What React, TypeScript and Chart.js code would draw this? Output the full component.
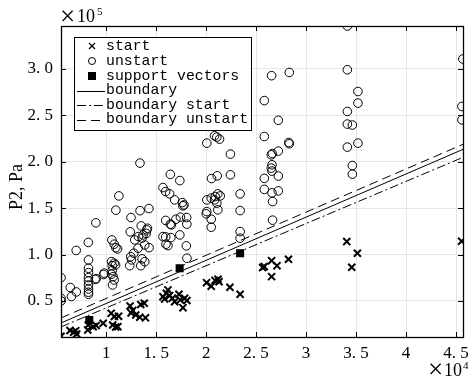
import React, { useEffect, useRef } from "react";
import { Chart, registerables } from "chart.js";
Chart.register(...registerables);

// ---- data (raw units: x, y in Pa) ----
const X_LIMITS = [5480, 45700];
const Y_LIMITS = [11200, 346000];
const X_TICKS = [10000, 15000, 20000, 25000, 30000, 35000, 40000, 45000];
const Y_TICKS = [50000, 100000, 150000, 200000, 250000, 300000];

const unstartPts: number[][] = [
  [5480, 75100], [5480, 52900], [5480, 50000], [6410, 64500], [7010, 59700], [6530, 54800], [7000, 104400], [8210, 113000], [8970, 134100],
  [8230, 94200], [8230, 85200], [8230, 80500], [8230, 75100], [8230, 71600], [8230, 67200], [8230, 62900], [8230, 59400], [8230, 57200],
  [9000, 74000], [8900, 73200], [9810, 80000], [9740, 78500],
  [10570, 115700], [10800, 111100], [10970, 107400], [11140, 106000], [10540, 92300], [10800, 90600], [10600, 88000], [10940, 88800],
  [10600, 82700], [10540, 78800], [10700, 76200], [10800, 72600], [10640, 67200], [10970, 147700], [11270, 163100],
  [13380, 198400], [13390, 147200], [14280, 149500], [12480, 139800], [13510, 130800], [12410, 124400], [14060, 126500], [14130, 128300],
  [14010, 122700], [12860, 115700], [13230, 119300], [13690, 121100], [13590, 117600], [13860, 110300], [14290, 107400], [13190, 106800],
  [12760, 101400], [12460, 97700], [12530, 94200], [12360, 88000], [13590, 95300], [13860, 92300], [13460, 88000],
  [15680, 172100], [15950, 167800], [16350, 165300], [16850, 158800], [16420, 186300], [17370, 179600], [17620, 155900], [17680, 152400],
  [17780, 153400], [15950, 136700], [16420, 132700], [16520, 131900], [16980, 138000], [17430, 140200], [18050, 139800], [18070, 132700],
  [17370, 121100], [15680, 119300], [15950, 118900], [16470, 118200], [15980, 111100], [16180, 109600], [18020, 109300], [18080, 96000],
  [20070, 219900], [20840, 227800], [21070, 226400], [21340, 224200], [22430, 208100], [20540, 181800], [21110, 184700], [22430, 185800],
  [20070, 158800], [20510, 160700], [20840, 158800], [20910, 162400], [21170, 165300], [21410, 163100], [21070, 155300], [21170, 148100],
  [20070, 146200], [20010, 143800], [20510, 138000], [20510, 129400], [23400, 165300], [23400, 147300], [23400, 124700], [23400, 117600],
  [26550, 292500], [28320, 296000], [25820, 265700], [27220, 244500], [25820, 227000], [28270, 220600], [28320, 219200], [27220, 211300],
  [26520, 207300], [26620, 208700], [26590, 196600], [26520, 193000], [26590, 189800], [27220, 184500], [25820, 182000], [25820, 170100],
  [26590, 166400], [27220, 168500], [26650, 157000], [26650, 137000],
  [34130, 346000], [34130, 298900], [35190, 275500], [35190, 263000], [34130, 254000], [34130, 240400], [34630, 239400], [34130, 215600],
  [35190, 219900], [34630, 195800], [34630, 186500],
  [45690, 310500], [45590, 259400], [45590, 245000],
];

const startPts: number[][] = [
  [5480, 12000], [6380, 18200], [6750, 16400], [6950, 18000], [7050, 14400], [8160, 18800], [8210, 24100], [8700, 22300], [9000, 23600], [9700, 26000],
  [10500, 36700], [10820, 33300], [11240, 33500], [10650, 24100], [10950, 22000], [11170, 22300],
  [12390, 44600], [12660, 39800], [12490, 37100], [12960, 34900], [13360, 32500], [13460, 46200], [13810, 47500], [13930, 31800],
  [15680, 54600], [16020, 58300], [16180, 61900], [16350, 55700], [16620, 52900], [16850, 49200], [17280, 57200], [17420, 51100],
  [17850, 52900], [18080, 50500], [17680, 42800], [15850, 52200],
  [20040, 69700], [20510, 65800], [20890, 72100], [21190, 73400], [21290, 70800], [22380, 64800], [23400, 57200],
  [25650, 85900], [25820, 87000], [26550, 93400], [27090, 88000], [28240, 94900], [26550, 76200],
  [34070, 113900], [35130, 101400], [34570, 86300],
  [45560, 114300],
];

const supportPts: number[][] = [[8310, 29500], [17350, 85200], [23400, 101400]];

const lineX = [5480, 45700];
const boundaryY = [26300, 213200];
const boundaryStartY = [22000, 204600];
const boundaryUnstartY = [31700, 218600];

const legendLabels = ["start", "unstart", "support vectors", "boundary", "boundary start", "boundary unstart"];

const toXY = (arr: number[][]) => arr.map(([x, y]) => ({ x, y }));
const lineXY = (ys: number[]) => lineX.map((x, i) => ({ x, y: ys[i] }));

const TICK_FONT = { family: "'Liberation Serif', serif", size: 17 };

const DASH_START = [9, 3, 2, 3];
const DASH_UNSTART = [9, 5];

const decorPlugin = {
  id: "decor",
  afterDraw(chart: any) {
    const { ctx, chartArea } = chart;
    const { left, right, top, bottom } = chartArea;
    const xs = chart.scales.x;
    const ys = chart.scales.y;
    ctx.save();
    // inward ticks
    ctx.strokeStyle = "#000";
    ctx.lineWidth = 1;
    ctx.beginPath();
    X_TICKS.forEach((v) => {
      const p = Math.round(xs.getPixelForValue(v)) + 0.5;
      ctx.moveTo(p, bottom); ctx.lineTo(p, bottom - 5);
      ctx.moveTo(p, top); ctx.lineTo(p, top + 5);
    });
    Y_TICKS.forEach((v) => {
      const p = Math.round(ys.getPixelForValue(v)) + 0.5;
      ctx.moveTo(left, p); ctx.lineTo(left + 5, p);
      ctx.moveTo(right, p); ctx.lineTo(right - 5, p);
    });
    ctx.stroke();
    // box
    ctx.lineWidth = 1.3;
    ctx.strokeRect(Math.round(left) + 0.5, Math.round(top) + 0.5, Math.round(right - left), Math.round(bottom - top));

    // exponents
    ctx.fillStyle = "#000";
    ctx.textBaseline = "alphabetic";
    ctx.textAlign = "left";
    ctx.font = "27px 'Liberation Serif', serif";
    ctx.fillText("\u00d7", 60, 25);
    ctx.font = "18px 'Liberation Serif', serif";
    ctx.fillText("10", 77, 22);
    ctx.font = "11px 'Liberation Serif', serif";
    ctx.fillText("5", 97, 15);
    ctx.font = "27px 'Liberation Serif', serif";
    ctx.fillText("\u00d7", 428, 378);
    ctx.font = "18px 'Liberation Serif', serif";
    ctx.fillText("10", 444, 376);
    ctx.font = "11px 'Liberation Serif', serif";
    ctx.fillText("4", 463, 369);

    // y title
    ctx.save();
    ctx.translate(17, 187);
    ctx.rotate(-Math.PI / 2);
    ctx.textAlign = "center";
    ctx.textBaseline = "middle";
    ctx.font = "18px 'Liberation Serif', serif";
    ctx.fillText("P2, Pa", 0, 0);
    ctx.restore();

    // legend
    const bx = 74.5, by = 37.5, bw = 177, bh = 93;
    ctx.fillStyle = "#fff";
    ctx.fillRect(bx, by, bw, bh);
    ctx.strokeStyle = "#000";
    ctx.lineWidth = 1;
    ctx.strokeRect(bx, by, bw, bh);
    const rows = [46, 61, 76, 90.5, 105, 119.5];
    const mx = 92;
    ctx.fillStyle = "#000";
    // cross
    ctx.lineWidth = 1.3;
    ctx.beginPath();
    ctx.moveTo(mx - 3, rows[0] - 3); ctx.lineTo(mx + 3, rows[0] + 3);
    ctx.moveTo(mx + 3, rows[0] - 3); ctx.lineTo(mx - 3, rows[0] + 3);
    ctx.stroke();
    // circle
    ctx.lineWidth = 1;
    ctx.beginPath();
    ctx.arc(mx, rows[1], 3.5, 0, Math.PI * 2);
    ctx.stroke();
    // square
    ctx.fillRect(mx - 4, rows[2] - 4, 8, 8);
    // lines
    const lines = [[], DASH_START, DASH_UNSTART];
    lines.forEach((d, i) => {
      ctx.setLineDash(d);
      ctx.beginPath();
      const yy = Math.round(rows[3 + i]) + 0.5;
      ctx.moveTo(77, yy); ctx.lineTo(105, yy);
      ctx.stroke();
    });
    ctx.setLineDash([]);
    ctx.font = "14.8px 'Liberation Mono', monospace";
    ctx.textBaseline = "middle";
    ctx.textAlign = "left";
    legendLabels.forEach((t, i) => ctx.fillText(t, 106, rows[i]));
    ctx.restore();
  },
};

export default function App() {
  const ref = useRef<HTMLCanvasElement | null>(null);
  useEffect(() => {
    if (!ref.current) return;
    const fmtX = (v: number) => {
      const t = v / 10000;
      return Number.isInteger(t) ? String(t) : t.toFixed(1).replace(".", ". ");
    };
    const fmtY = (v: number) => (v / 100000).toFixed(1).replace(".", ". ");
    const chart = new Chart(ref.current, {
      type: "scatter",
      data: {
        datasets: [
          {
            label: "boundary", data: lineXY(boundaryY), showLine: true, borderColor: "#000", borderWidth: 1,
            pointRadius: 0,
          },
          {
            label: "boundary start", data: lineXY(boundaryStartY), showLine: true, borderColor: "#000", borderWidth: 1,
            borderDash: DASH_START, pointRadius: 0,
          },
          {
            label: "boundary unstart", data: lineXY(boundaryUnstartY), showLine: true, borderColor: "#000", borderWidth: 1,
            borderDash: DASH_UNSTART, pointRadius: 0,
          },
          {
            label: "start", data: toXY(startPts), pointStyle: "crossRot", pointRadius: 5, pointBorderWidth: 2,
            pointBorderColor: "#000", pointBackgroundColor: "#000",
          },
          {
            label: "unstart", data: toXY(unstartPts), pointStyle: "circle", pointRadius: 4.3, pointBorderWidth: 1,
            pointBorderColor: "#000", pointBackgroundColor: "rgba(0,0,0,0)",
          },
          {
            label: "support vectors", data: toXY(supportPts), pointStyle: "rect", pointRadius: 5.7, pointBorderWidth: 0,
            pointBorderColor: "#000", pointBackgroundColor: "#000",
          },
        ],
      },
      options: {
        animation: false,
        responsive: false,
        events: [],
        layout: { padding: { top: 26, right: 6, left: 0, bottom: 0 } },
        plugins: { legend: { display: false }, tooltip: { enabled: false } },
        scales: {
          x: {
            type: "linear",
            min: X_LIMITS[0],
            max: X_LIMITS[1],
            afterBuildTicks: (s: any) => { s.ticks = X_TICKS.map((value) => ({ value })); },
            afterFit: (s: any) => { s.height = 40; s.paddingLeft = 0; s.paddingRight = 0; },
            ticks: { callback: (v: any) => fmtX(Number(v)), font: TICK_FONT, color: "#000", padding: 6, autoSkip: false, maxRotation: 0 },
            grid: { color: "#e6e6e6", drawTicks: false },
            border: { display: false },
          },
          y: {
            type: "linear",
            min: Y_LIMITS[0],
            max: Y_LIMITS[1],
            afterBuildTicks: (s: any) => { s.ticks = Y_TICKS.map((value) => ({ value })); },
            afterFit: (s: any) => { s.width = 61; s.paddingTop = 0; s.paddingBottom = 0; },
            ticks: { callback: (v: any) => fmtY(Number(v)), font: TICK_FONT, color: "#000", padding: 8, autoSkip: false },
            grid: { color: "#e6e6e6", drawTicks: false },
            border: { display: false },
          },
        },
      },
      plugins: [decorPlugin],
    } as any);
    return () => chart.destroy();
  }, []);
  return (
    <div style={{ position: "fixed", left: 0, top: 0, width: 470, height: 377, background: "#fff" }}>
      <canvas ref={ref} width={470} height={377} style={{ width: 470, height: 377, display: "block" }} />
    </div>
  );
}
